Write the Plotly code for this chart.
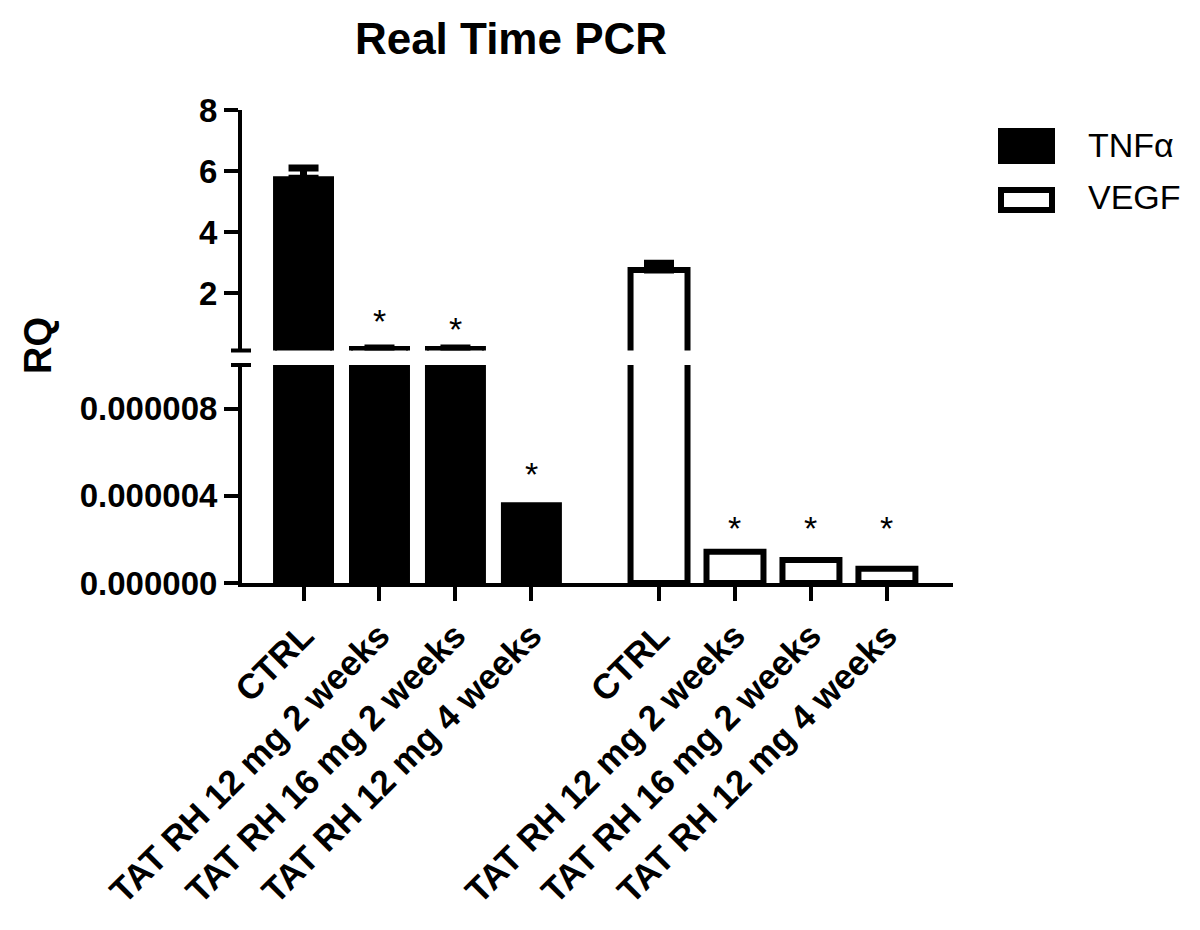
import plotly.graph_objects as go

# Categories (same four groups for each gene)
labels = ['CTRL', 'TAT RH 12 mg 2 weeks', 'TAT RH 16 mg 2 weeks', 'TAT RH 12 mg 4 weeks']

# RQ values
tnf = [5.76, 0.2, 0.2, 3.61e-6]
tnf_err = [0.34, None, None, None]
vegf = [2.76, 1.43e-6, 1.05e-6, 0.65e-6]
vegf_err = [0.22, None, None, None]

# significance markers: (group, index, axis, y of the asterisk)
stars = [
    ('tnf', 1, 'y2', 1.27),
    ('tnf', 2, 'y2', 1.01),
    ('tnf', 3, 'y', 5.28e-6),
    ('vegf', 1, 'y', 2.81e-6),
    ('vegf', 2, 'y', 2.81e-6),
    ('vegf', 3, 'y', 2.81e-6),
]

FONT = 'Liberation Sans, Arial, sans-serif'
LOW_MAX = 1e-5   # top of the lower (broken) axis segment

# bar positions on a numeric x axis, with a gap between the two genes
gap = 1.68
tnf_x = [i for i in range(len(labels))]
vegf_x = [i + len(labels) - 1 + gap for i in range(len(labels))]

# page pixel -> paper helpers (page has an 8px body margin)
OFF = 8
L, T = 242 - OFF, 110 - OFF
W, H = 711, 473
R = 1200 - L - W
B = 930 - T - H


def px(x):
    return (x - OFF - L) / W


def py(y):
    return (T + H + OFF - y) / H


def upper(vals):
    # only values that overflow the lower segment show in the upper one
    return [v if v > LOW_MAX else None for v in vals]


fig = go.Figure()

for yax in ['y', 'y2']:
    top = yax == 'y2'
    fig.add_trace(go.Bar(
        x=tnf_x, y=upper(tnf) if top else tnf, width=0.75, yaxis=yax, name='TNFα',
        marker=dict(color='black', line=dict(color='black', width=4)),
        error_y=dict(type='data', array=tnf_err, arrayminus=[0] * 4, symmetric=False,
                     color='black', thickness=7, width=15, visible=top),
        showlegend=False,
    ))
    fig.add_trace(go.Bar(
        x=vegf_x, y=upper(vegf) if top else vegf, width=0.75, yaxis=yax, name='VEGF',
        marker=dict(color='white', line=dict(color='black', width=6)),
        error_y=dict(type='data', array=vegf_err, arrayminus=[0] * 4, symmetric=False,
                     color='black', thickness=7, width=15, visible=top),
        showlegend=False,
    ))

# asterisks
for grp, i, yax, yv in stars:
    xv = tnf_x[i] if grp == 'tnf' else vegf_x[i]
    fig.add_annotation(x=xv, y=yv, xref='x', yref=yax, text='*', showarrow=False,
                       yshift=-6, font=dict(family=FONT, size=34, color='black'))

axis_common = dict(showline=True, linecolor='black', linewidth=4, ticks='outside',
                   ticklen=14, tickwidth=4, tickcolor='black', showgrid=False,
                   zeroline=False)
ytick_font = dict(family=FONT, size=33, color='black', weight='bold')
xtick_font = dict(family=FONT, size=35, color='black', weight='bold')

fig.update_layout(
    width=1200, height=930,
    margin=dict(l=L, r=R, t=T, b=B),
    paper_bgcolor='white', plot_bgcolor='white',
    barmode='overlay',
    showlegend=False,
    title=dict(text='Real Time PCR', x=(511 - OFF) / 1200, xref='container', xanchor='center',
               y=1 - (39 - OFF) / 930, yref='container', yanchor='middle',
               font=dict(family=FONT, size=44, color='black', weight='bold')),
    xaxis=dict(range=[-0.81, 8.55], tickvals=tnf_x + vegf_x, ticktext=labels + labels,
               tickangle=-45, anchor='y', tickfont=xtick_font, **axis_common),
    yaxis=dict(domain=[0, py(365)], range=[0, LOW_MAX], tickvals=[0, 4e-6, 8e-6],
               tickformat='.6f', anchor='x', tickfont=ytick_font, **axis_common),
    yaxis2=dict(domain=[py(350.5), 1], range=[0.12, 8], tickvals=[2, 4, 6, 8],
                anchor='x', tickfont=ytick_font, **axis_common),
)

# axis break marks
for yb in [365, 350.5]:
    fig.add_shape(type='line', xref='paper', yref='paper', x0=px(231), x1=px(251),
                  y0=py(yb), y1=py(yb), line=dict(color='black', width=4))

# y axis title
fig.add_annotation(xref='paper', yref='paper', x=px(38), y=py(346), text='RQ', textangle=-90,
                   xanchor='center', yanchor='middle', showarrow=False,
                   font=dict(family=FONT, size=38, color='black', weight='bold'))

# legend drawn by hand (large swatches as in the original)
fig.add_shape(type='rect', xref='paper', yref='paper', x0=px(1000), x1=px(1053),
              y0=py(162), y1=py(130), fillcolor='black', line=dict(color='black', width=4))
fig.add_shape(type='rect', xref='paper', yref='paper', x0=px(1001), x1=px(1052),
              y0=py(210), y1=py(190), fillcolor='white', line=dict(color='black', width=6))
fig.add_annotation(xref='paper', yref='paper', x=px(1086), y=py(145), text='TNFα',
                   xanchor='left', yanchor='middle', showarrow=False,
                   font=dict(family=FONT, size=34, color='black'))
fig.add_annotation(xref='paper', yref='paper', x=px(1086), y=py(197), text='VEGF',
                   xanchor='left', yanchor='middle', showarrow=False,
                   font=dict(family=FONT, size=34, color='black'))

fig.write_html('out.html')
